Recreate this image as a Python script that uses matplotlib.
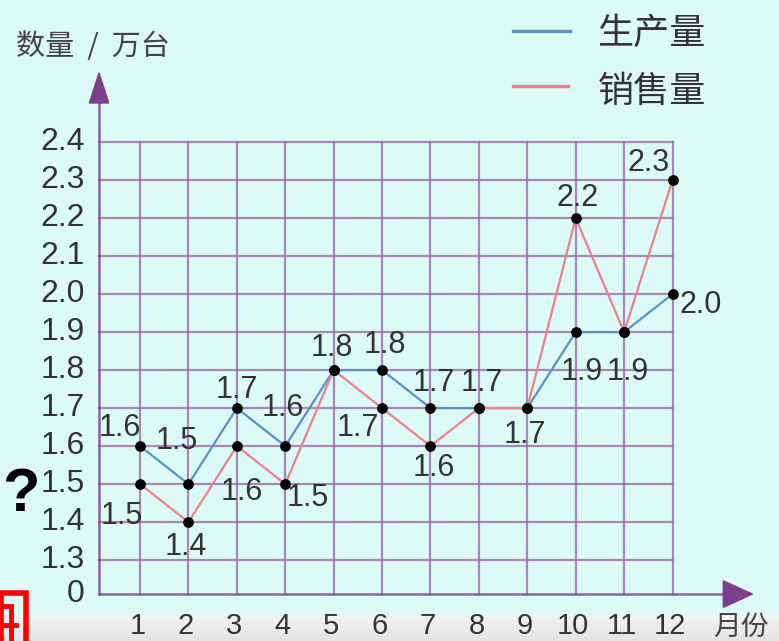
import numpy as np
import matplotlib.pyplot as plt
from matplotlib.patches import Rectangle, Polygon
from matplotlib.colors import LinearSegmentedColormap

plt.rcParams['font.family'] = ['Liberation Sans', 'Noto Sans CJK SC', 'DejaVu Sans']

# -----------------------------
# Data
# -----------------------------
months = np.arange(1, 13)
production = [1.6, 1.5, 1.7, 1.6, 1.8, 1.8, 1.7, 1.7, 1.7, 1.9, 1.9, 2.0]
sales = [1.5, 1.4, 1.6, 1.5, 1.8, 1.7, 1.6, 1.7, 1.7, 2.2, 1.9, 2.3]
ytick_values = [1.3, 1.4, 1.5, 1.6, 1.7, 1.8, 1.9, 2.0, 2.1, 2.2, 2.3, 2.4]

# label offsets (months, value units); None = no label (shared point)
prod_off = [(-0.41, 0.047), (-0.25, 0.113), (0.0, 0.047), (-0.06, 0.10),
            (-0.04, 0.058), (0.06, 0.066), (0.06, 0.066), (0.06, 0.066),
            (-0.06, -0.071), (0.12, -0.105), (0.08, -0.105), (0.58, -0.03)]
sales_off = [(-0.37, -0.084), (-0.06, -0.066), (0.10, -0.12), (0.47, -0.037),
             None, (-0.50, -0.053), (0.06, -0.058), None,
             None, (0.04, 0.053), None, (-0.50, 0.045)]

ZERO_POS = 1.2105   # where "0" sits on the broken axis

# -----------------------------
# Colors
# -----------------------------
bg = '#dcfbf7'
grid_c = '#9b6aa6'
axis_c = '#7b3f8c'
blue = '#5a8fc8'
pink = '#ef7f8c'
txt = '#333333'

fig = plt.figure(figsize=(7.79, 6.41), dpi=100, facecolor=bg)
ax = fig.add_axes([0, 0, 1, 1])
ax.set_facecolor(bg)
ax.set_xlim(-1.893, 14.2)
ax.set_ylim(1.087, 2.774)
ax.axis('off')

x0 = 1 - 41 / 48.4   # y-axis position

# grid
for v in ytick_values:
    ax.plot([x0, 12], [v, v], color=grid_c, lw=1.6, alpha=0.8, zorder=1)
for m in months:
    ax.plot([m, m], [ZERO_POS, 2.4], color=grid_c, lw=1.6, alpha=0.8, zorder=1)

# axes with arrows
ax.plot([x0, x0], [ZERO_POS, 2.52], color=axis_c, lw=1.8, alpha=0.8, zorder=2)
ax.plot([x0, 13.2], [ZERO_POS, ZERO_POS], color=axis_c, lw=1.8, alpha=0.8, zorder=2)
ax.add_patch(Polygon([[x0 - 0.2, 2.503], [x0 + 0.2, 2.503], [x0, 2.582]],
                     closed=True, color=axis_c, zorder=3))
ax.add_patch(Polygon([[13.05, ZERO_POS + 0.035], [13.05, ZERO_POS - 0.035],
                      [13.65, ZERO_POS]], closed=True, color=axis_c, zorder=3))

# y tick labels
for v in ytick_values:
    ax.text(x0 - 0.3, v, f'{v:.1f}', ha='right', va='center', fontsize=23, color=txt)
ax.text(x0 - 0.3, ZERO_POS, '0', ha='right', va='center', fontsize=23, color=txt)

# lines
ax.plot(months, production, color=blue, lw=1.6, zorder=4)
ax.plot(months, sales, color=pink, lw=1.6, zorder=4)
ax.scatter(months, production, s=45, color='black', zorder=5)
ax.scatter(months, sales, s=45, color='black', zorder=5)

# point labels
for m, v, off in zip(months, production, prod_off):
    ax.text(m + off[0], v + off[1], f'{v:.1f}', ha='center', va='center',
            fontsize=22, color=txt, zorder=6)
for m, v, off in zip(months, sales, sales_off):
    if off is None:
        continue
    ax.text(m + off[0], v + off[1], f'{v:.1f}', ha='center', va='center',
            fontsize=22, color=txt, zorder=6)

# titles
ax.text(-1.57, 2.65, '数量  /  万台', ha='left', va='center', fontsize=21,
        color='#444444', family=['Noto Sans CJK SC'])
ax.text(12.84, 1.124, '月份', ha='left', va='center', fontsize=20,
        color='#444444', family=['Noto Sans CJK SC'])

# legend
ax.plot([8.71, 9.88], [2.693, 2.693], color=blue, lw=2.4)
ax.plot([8.71, 9.84], [2.547, 2.547], color=pink, lw=2.4)
ax.text(10.45, 2.685, '生产量', ha='left', va='center', fontsize=26,
        color='#333333', family=['Noto Sans CJK SC'])
ax.text(10.45, 2.532, '销售量', ha='left', va='center', fontsize=26,
        color='#333333', family=['Noto Sans CJK SC'])

# gray strip at the bottom
grad = np.linspace(0, 1, 50).reshape(-1, 1)
ax.imshow(grad, extent=(-1.893, 14.2, 1.087, 1.152), aspect='auto',
          cmap=LinearSegmentedColormap.from_list('g', ['#f2f2f2', '#e4e4e4']),
          zorder=0)

# month tick labels
for m in months:
    ax.text(m - 0.05, 1.126, str(m), ha='center', va='center',
            fontsize=21, color=txt, zorder=6)

# question mark
ax.text(-1.47, 1.47, '?', ha='center', va='center', fontsize=44,
        fontweight='bold', color='black')

# red box at bottom-left
ax.add_patch(Rectangle((-1.893 + 0.03, 1.03), 0.50, 0.183, fill=False,
                       edgecolor='red', lw=4, zorder=7))
ax.add_patch(Rectangle((-1.893 - 0.1, 1.05), 0.33, 0.13, fill=False,
                       edgecolor='red', lw=3.5, zorder=7))
ax.plot([-1.99, -1.56], [1.13, 1.13], color='red', lw=3.5, zorder=7)

fig.savefig('out.png', dpi=100, facecolor=bg)
